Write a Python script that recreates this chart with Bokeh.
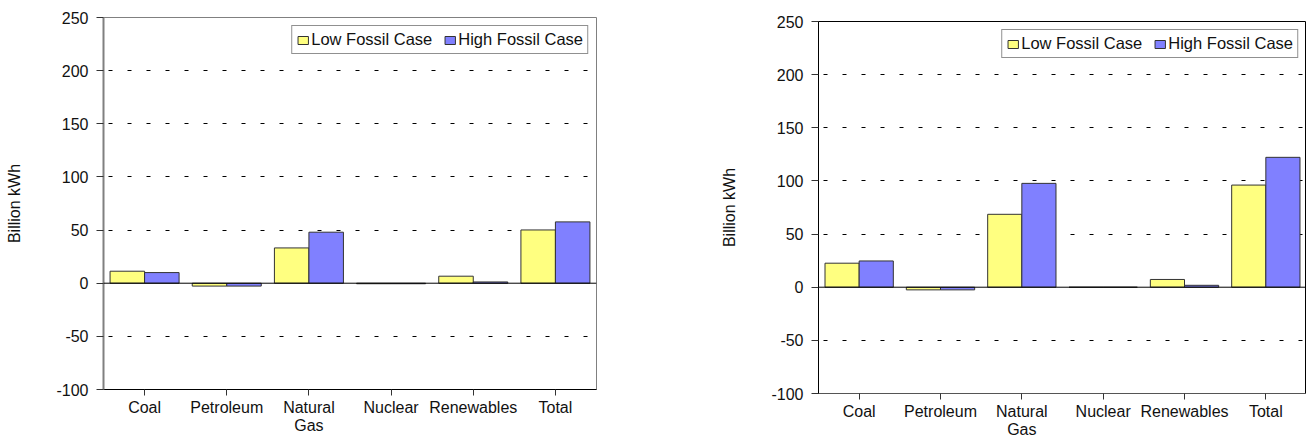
from bokeh.plotting import figure
from bokeh.models import FactorRange, Range1d, FixedTicker, Span, Legend, LegendItem, ColumnDataSource, Spacer
from bokeh.transform import dodge
from bokeh.layouts import row, column
from bokeh.embed import file_html
from bokeh.resources import INLINE

categories = ["Coal", "Petroleum", "Natural\nGas", "Nuclear", "Renewables", "Total"]
series_names = ["Low Fossil Case", "High Fossil Case"]
left_low = [11.3, -2.7, 33.2, -0.5, 6.6, 50.1]
left_high = [10.0, -2.7, 48.0, -0.5, 1.2, 57.7]
right_low = [22.6, -2.5, 68.6, 0.0, 7.3, 96.1]
right_high = [24.7, -2.5, 97.7, 0.0, 1.8, 122.2]
y_ticks = [-100, -50, 0, 50, 100, 150, 200, 250]
grid_ticks = [-50, 50, 100, 150, 200]

FONT = "Liberation Sans"
FS = "16px"
LOW_COLOR = "#FFFF80"
HIGH_COLOR = "#8080FF"


def make_panel(low, high, frame_w, border_left, border_right, border_top, border_bottom,
               y_axis_color, y_axis_width, x_axis_color, outline_color):
    p = figure(x_range=FactorRange(*categories), y_range=Range1d(-100, 250),
               frame_width=frame_w, frame_height=372,
               output_backend="svg", toolbar_location=None,
               min_border_left=border_left, min_border_right=border_right,
               min_border_top=border_top, min_border_bottom=border_bottom)
    p.background_fill_color = "white"
    p.border_fill_color = "white"
    p.outline_line_color = outline_color
    p.outline_line_width = 1

    src = ColumnDataSource(dict(cat=categories, low=low, high=high))
    r_low = p.vbar(x=dodge("cat", -0.21, range=p.x_range), top="low", bottom=0, width=0.42,
                   source=src, fill_color=LOW_COLOR, line_color="#333333", line_width=1)
    r_high = p.vbar(x=dodge("cat", 0.21, range=p.x_range), top="high", bottom=0, width=0.42,
                    source=src, fill_color=HIGH_COLOR, line_color="#333333", line_width=1)

    p.add_layout(Span(location=0, dimension="width", line_color="black", line_width=1))

    # grid
    p.xgrid.visible = False
    p.ygrid.ticker = FixedTicker(ticks=grid_ticks)
    p.ygrid.grid_line_color = "black"
    p.ygrid.grid_line_dash = "4 15"
    p.ygrid.grid_line_dash_offset = -5
    p.ygrid.grid_line_width = 1

    # y axis
    ya = p.yaxis[0]
    ya.ticker = FixedTicker(ticks=y_ticks)
    ya.major_label_overrides = {t: str(t) for t in y_ticks}
    ya.axis_label = "Billion kWh"
    ya.axis_label_text_font = FONT
    ya.axis_label_text_font_size = FS
    ya.axis_label_text_font_style = "normal"
    ya.axis_label_text_color = "#111111"
    ya.axis_label_standoff = 30
    ya.major_label_text_font = FONT
    ya.major_label_text_font_size = FS
    ya.major_label_text_color = "#111111"
    ya.major_label_standoff = 8
    ya.major_tick_out = 7
    ya.major_tick_in = 0
    ya.minor_tick_out = 0
    ya.minor_tick_in = 0
    ya.axis_line_color = y_axis_color
    ya.axis_line_width = y_axis_width
    ya.major_tick_line_color = "#333333"

    # x axis
    xa = p.xaxis[0]
    xa.major_label_text_font = FONT
    xa.major_label_text_font_size = FS
    xa.major_label_text_color = "#111111"
    xa.major_label_text_line_height = 1.1
    xa.major_label_standoff = 3
    xa.major_tick_out = 6
    xa.major_tick_in = 0
    xa.axis_line_color = x_axis_color
    xa.major_tick_line_color = "#333333"

    legend = Legend(items=[LegendItem(label=series_names[0], renderers=[r_low]),
                           LegendItem(label=series_names[1], renderers=[r_high])],
                    location="top_right", orientation="horizontal")
    legend.margin = 8
    legend.padding = 4
    legend.spacing = 11
    legend.label_standoff = 2
    legend.glyph_width = 13
    legend.glyph_height = 10
    legend.label_height = 16
    legend.label_text_font = FONT
    legend.label_text_font_size = "16.5px"
    legend.label_text_color = "#111111"
    legend.border_line_color = "#222222"
    legend.border_line_width = 1
    legend.background_fill_color = "white"
    legend.background_fill_alpha = 1
    p.add_layout(legend, "center")
    return p


p1 = make_panel(left_low, left_high, frame_w=493, border_left=103, border_right=52,
                border_top=17, border_bottom=48, y_axis_color="#808080", y_axis_width=2,
                x_axis_color="black", outline_color="#808080")
p2 = make_panel(right_low, right_high, frame_w=488, border_left=170, border_right=0,
                border_top=17, border_bottom=44, y_axis_color="black", y_axis_width=1,
                x_axis_color="#555555", outline_color="black")

layout = row(p1, column(Spacer(height=4, width=658), p2))
open("out.html", "w").write(file_html(layout, INLINE))
